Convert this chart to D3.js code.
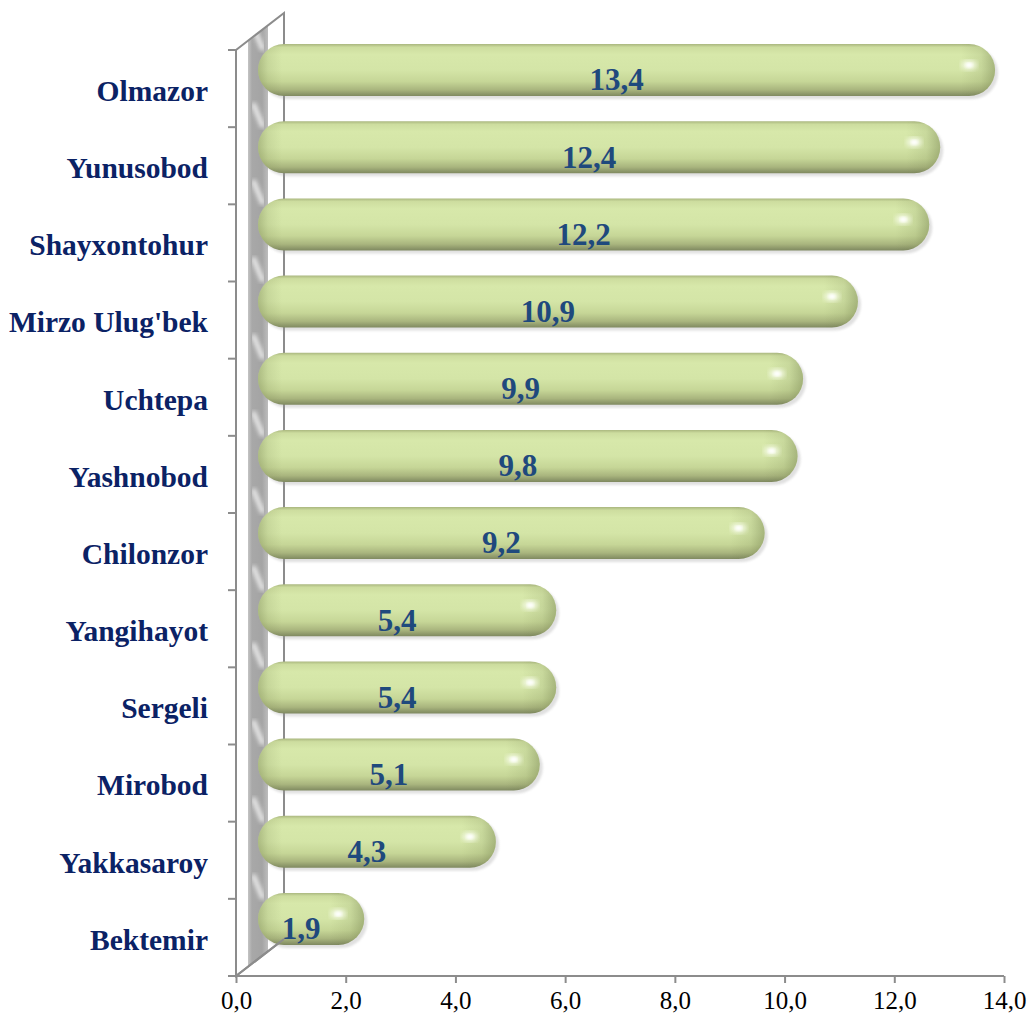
<!DOCTYPE html>
<html>
<head>
<meta charset="utf-8">
<script src="https://cdn.jsdelivr.net/npm/d3@7"></script>
<style>
  body { margin: 0; background: #fff; }
  svg { display: block; }
</style>
</head>
<body>
<div id="chart"></div>
<script>

var categories = ["Olmazor", "Yunusobod", "Shayxontohur", "Mirzo Ulug'bek", "Uchtepa", "Yashnobod",
                  "Chilonzor", "Yangihayot", "Sergeli", "Mirobod", "Yakkasaroy", "Bektemir"];
var values = [13.4, 12.4, 12.2, 10.9, 9.9, 9.8, 9.2, 5.4, 5.4, 5.1, 4.3, 1.9];
var tickValues = [0, 2, 4, 6, 8, 10, 12, 14];

var width = 1031, height = 1023;
var depth = {x: 48, y: -37};   // 3d depth of the plot box
var barH = 52;

var svg = d3.select("#chart").append("svg")
    .attr("width", width)
    .attr("height", height);

var x = d3.scaleLinear().domain([0, 14]).range([236, 1004]);
var y = d3.scaleBand().domain(categories).range([50, 976]);

var defs = svg.append("defs");

// bar body gradient (top to bottom)
var g = defs.append("linearGradient").attr("id", "barGrad")
    .attr("x1", 0).attr("y1", 0).attr("x2", 0).attr("y2", 1);
[["0%", "#aab77f"], ["6%", "#cddd9f"], ["20%", "#d7e8aa"], ["50%", "#d4e5a7"],
 ["72%", "#c6d697"], ["88%", "#a9b57e"], ["100%", "#7f8960"]].forEach(function(s) {
    g.append("stop").attr("offset", s[0]).attr("stop-color", s[1]);
});

// wall stripe gradient
var wg = defs.append("linearGradient").attr("id", "wallGrad")
    .attr("x1", 0).attr("y1", 0).attr("x2", 1).attr("y2", 0);
[["0%", "#c4c4c4"], ["20%", "#a8a8a8"], ["70%", "#a4a4a4"], ["100%", "#bdbdbd"]].forEach(function(s) {
    wg.append("stop").attr("offset", s[0]).attr("stop-color", s[1]);
});

defs.append("filter").attr("id", "blur")
    .append("feGaussianBlur").attr("stdDeviation", 1.6);
defs.append("filter").attr("id", "streakBlur")
    .append("feGaussianBlur").attr("stdDeviation", 2.2);
defs.append("filter").attr("id", "glow")
    .append("feGaussianBlur").attr("stdDeviation", 2.4);
defs.append("filter").attr("id", "shadowBlur")
    .append("feGaussianBlur").attr("stdDeviation", 1.2);

// left wall
var x0 = x(0), yTop = y.range()[0], yBot = y.range()[1];
var wallPath = "M" + x0 + "," + yTop + "L" + (x0 + depth.x) + "," + (yTop + depth.y) +
               "L" + (x0 + depth.x) + "," + (yBot + depth.y) + "L" + x0 + "," + yBot + "Z";
defs.append("clipPath").attr("id", "wallClip")
    .append("path").attr("d", wallPath);

svg.append("path")
    .attr("d", wallPath)
    .attr("fill", "#fff");

// gray cylinder stripe on the wall
var stripe = svg.append("g").attr("clip-path", "url(#wallClip)");
stripe.append("rect")
    .attr("x", x0 + 12).attr("y", yTop + depth.y)
    .attr("width", 20).attr("height", yBot - yTop - depth.y)
    .attr("fill", "url(#wallGrad)");

// light streaks on the stripe, between the bars
stripe.selectAll("path")
    .data(categories)
  .enter().append("path")
    .attr("d", function(d) {
        var yy = y(d) - 12;
        return "M" + (x0 + 17) + "," + (yy - 12) + "L" + (x0 + 27) + "," + (yy + 12);
    })
    .attr("stroke", "#f4f4f4")
    .attr("stroke-width", 5)
    .attr("opacity", 0.85)
    .attr("filter", "url(#streakBlur)");

svg.append("path")
    .attr("d", wallPath)
    .attr("fill", "none")
    .attr("stroke", "#8c8c8c")
    .attr("stroke-width", 2);

var catTicks = categories.map(function(c) { return y(c); }).concat([yBot]);
svg.append("g").selectAll("line")
    .data(catTicks)
  .enter().append("line")
    .attr("x1", x0 - 8).attr("x2", x0)
    .attr("y1", function(d) { return d; })
    .attr("y2", function(d) { return d; })
    .attr("stroke", "#8c8c8c").attr("stroke-width", 2);

// bars
var bars = svg.append("g").selectAll("g.bar")
    .data(categories)
  .enter().append("g")
    .attr("class", "bar");

function barY(c) { return y(c) + y.bandwidth() / 2 + depth.y / 2 - barH / 2; }
function barX0() { return x(0) + depth.x / 2 - 2; }
function barX1(i) { return x(values[i]) + depth.x / 2; }

// soft shadow under each bar
bars.append("rect")
    .attr("x", function(d, i) { return barX0() + 3; })
    .attr("y", function(d) { return barY(d) + 3; })
    .attr("width", function(d, i) { return barX1(i) - barX0(); })
    .attr("height", barH)
    .attr("rx", barH / 2).attr("ry", barH / 2)
    .attr("fill", "#9a9a9a")
    .attr("opacity", 0.3)
    .attr("filter", "url(#shadowBlur)");

bars.append("rect")
    .attr("x", function(d, i) { return barX0(); })
    .attr("y", function(d) { return barY(d); })
    .attr("width", function(d, i) { return barX1(i) - barX0(); })
    .attr("height", barH)
    .attr("rx", barH / 2).attr("ry", barH / 2)
    .attr("fill", "url(#barGrad)");

// end caps shading, one gradient per bar
bars.each(function(d, i) {
    var a = barX0(), b = barX1(i), w = b - a;
    var cg = defs.append("linearGradient").attr("id", "cap" + i)
        .attr("gradientUnits", "userSpaceOnUse")
        .attr("x1", a).attr("y1", 0).attr("x2", b).attr("y2", 0);
    [[0, 0.35], [10 / w, 0.12], [24 / w, 0], [1 - 34 / w, 0], [1 - 14 / w, 0.12], [1, 0.4]].forEach(function(s) {
        cg.append("stop").attr("offset", s[0]).attr("stop-color", "#5f6b3a").attr("stop-opacity", s[1]);
    });
    d3.select(this).append("rect")
        .attr("x", a).attr("y", barY(d))
        .attr("width", w).attr("height", barH)
        .attr("rx", barH / 2).attr("ry", barH / 2)
        .attr("fill", "url(#cap" + i + ")");
});

// specular highlight near the right end
bars.append("ellipse")
    .attr("cx", function(d, i) { return barX1(i) - 26; })
    .attr("cy", function(d) { return barY(d) + barH / 2 - 5; })
    .attr("rx", 8).attr("ry", 5)
    .attr("fill", "#fbfff0")
    .attr("opacity", 0.8)
    .attr("filter", "url(#glow)");
bars.append("ellipse")
    .attr("cx", function(d, i) { return barX1(i) - 26; })
    .attr("cy", function(d) { return barY(d) + barH / 2 - 5; })
    .attr("rx", 3.5).attr("ry", 2.5)
    .attr("fill", "#ffffff")
    .attr("filter", "url(#blur)");

// value labels
bars.append("text")
    .attr("x", function(d, i) { return (x(0) + x(values[i])) / 2 + 13; })
    .attr("y", function(d) { return y(d) + y.bandwidth() / 2 - 9; })
    .attr("dy", "0.35em")
    .attr("text-anchor", "middle")
    .style("font-family", "'Liberation Serif', 'Times New Roman', serif")
    .style("font-weight", "bold")
    .style("font-size", "31px")
    .style("fill", "#1f497d")
    .text(function(d, i) { return d3.format(".1f")(values[i]).replace(".", ","); });

// category labels
svg.append("g").selectAll("text")
    .data(categories)
  .enter().append("text")
    .attr("x", 208)
    .attr("y", function(d) { return y(d) + y.bandwidth() / 2 + 2; })
    .attr("dy", "0.35em")
    .attr("text-anchor", "end")
    .style("font-family", "'Liberation Serif', 'Times New Roman', serif")
    .style("font-weight", "bold")
    .style("font-size", "29.5px")
    .style("fill", "#0b2265")
    .text(function(d) { return d; });

// floor diagonal and x axis
svg.append("line")
    .attr("x1", x0).attr("y1", yBot)
    .attr("x2", x0 + depth.x).attr("y2", yBot + depth.y)
    .attr("stroke", "#8c8c8c").attr("stroke-width", 2);

var xAxis = d3.axisBottom(x)
    .tickValues(tickValues)
    .tickSize(7)
    .tickPadding(8)
    .tickFormat(function(d) { return d3.format(".1f")(d).replace(".", ","); });

var axisG = svg.append("g")
    .attr("transform", "translate(0," + yBot + ")")
    .call(xAxis);
axisG.select(".domain")
    .attr("d", "M" + (x0 - 1) + ",0H" + x(14))
    .attr("stroke", "#8c8c8c").attr("stroke-width", 2);
axisG.selectAll(".tick line").attr("stroke", "#8c8c8c").attr("stroke-width", 2);
axisG.selectAll(".tick text")
    .style("font-family", "'Liberation Serif', 'Times New Roman', serif")
    .style("font-size", "25px")
    .style("fill", "#000");

</script>
</body>
</html>
